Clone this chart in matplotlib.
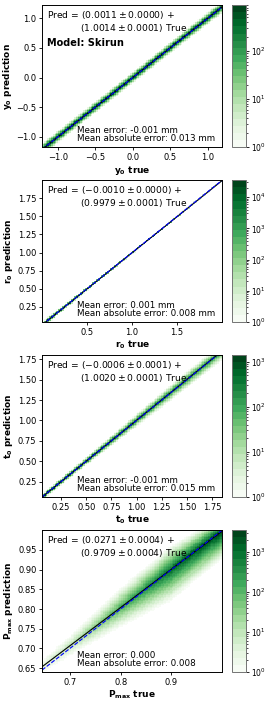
import numpy as np
import matplotlib
matplotlib.use("Agg")
import matplotlib.pyplot as plt
from matplotlib.colors import LogNorm

# one entry per panel: y0, r0, t0, Pmax
names = [r"\mathbf{y_0}", r"\mathbf{r_0}", r"\mathbf{t_0}", r"\mathbf{P_{max}}"]
x_range = [(-1.21, 1.19), (0.0, 2.0), (0.06, 1.85), (0.645, 1.0)]
y_range = [(-1.17, 1.22), (0.04, 2.0), (0.06, 1.80), (0.64, 1.0)]

# fit Pred = a + b*True, as printed on the panels
fit_a = [0.0011, -0.0010, -0.0006, 0.0271]
fit_a_err = [0.0000, 0.0000, 0.0001, 0.0004]
fit_b = [1.0014, 0.9979, 1.0020, 0.9709]
fit_b_err = [0.0001, 0.0001, 0.0001, 0.0004]
mean_err = ["-0.001 mm", "0.001 mm", "-0.001 mm", "0.000"]
mean_abs_err = ["0.013 mm", "0.008 mm", "0.015 mm", "0.008"]

# colorbar top (max bin count)
cmax = [900, 35000, 1400, 3500]

# band: along the true axis, peak count on the
# diagonal and half width of the green halo below / above the fit line
knots = [[-1.2, -0.6, 0.0, 0.6, 1.2],
         [0.0, 0.5, 1.0, 1.5, 2.0],
         [0.06, 0.5, 1.0, 1.5, 1.85],
         [0.645, 0.7, 0.8, 0.9, 1.0]]
peak = [[900, 800, 800, 800, 900],
        [35000, 9000, 4000, 2500, 1500],
        [1400, 600, 300, 200, 150],
        [4, 12, 150, 1200, 3500]]
halo_lo = [[0.11, 0.10, 0.10, 0.10, 0.11],
           [0.045, 0.03, 0.02, 0.015, 0.012],
           [0.04, 0.05, 0.08, 0.11, 0.12],
           [0.015, 0.025, 0.05, 0.08, 0.07]]
halo_hi = [[0.11, 0.10, 0.10, 0.10, 0.11],
           [0.045, 0.03, 0.02, 0.015, 0.012],
           [0.04, 0.05, 0.08, 0.10, 0.10],
           [0.015, 0.025, 0.05, 0.06, 0.04]]

xticks = [[-1.0, -0.5, 0.0, 0.5, 1.0], [0.5, 1.0, 1.5],
          [0.25, 0.5, 0.75, 1.0, 1.25, 1.5, 1.75], [0.7, 0.8, 0.9]]
yticks = [[-1.0, -0.5, 0.0, 0.5, 1.0],
          [0.25, 0.5, 0.75, 1.0, 1.25, 1.5, 1.75],
          [0.25, 0.5, 0.75, 1.0, 1.25, 1.5, 1.75],
          [0.65, 0.7, 0.75, 0.8, 0.85, 0.9, 0.95]]

nbins = 100
cmap = plt.get_cmap("Greens", 20)

fig = plt.figure(figsize=(2.66, 7.02), dpi=100)
bottoms = [0.7906, 0.5413, 0.292, 0.0427]

for i in range(4):
    ax = fig.add_axes([0.158, bottoms[i], 0.677, 0.202])
    cax = fig.add_axes([0.872, bottoms[i], 0.053, 0.202])

    xe = np.linspace(x_range[i][0], x_range[i][1], nbins + 1)
    ye = np.linspace(y_range[i][0], y_range[i][1], nbins + 1)
    xc = 0.5 * (xe[1:] + xe[:-1])
    yc = 0.5 * (ye[1:] + ye[:-1])
    X, Y = np.meshgrid(xc, yc)
    line = fit_a[i] + fit_b[i] * X
    r = Y - line
    lp = np.interp(X, knots[i], np.log10(peak[i]))
    hw = np.where(r < 0, np.interp(X, knots[i], halo_lo[i]),
                  np.interp(X, knots[i], halo_hi[i]))
    u = np.clip(1 - np.abs(r) / hw, 0, None)
    counts = 10 ** (lp * u)
    counts = np.ma.masked_where(u <= 0, counts)

    mesh = ax.pcolormesh(xe, ye, counts, cmap=cmap,
                         norm=LogNorm(vmin=1, vmax=cmax[i]), rasterized=True)
    xl = np.array(x_range[i])
    ax.plot(xl, fit_a[i] + fit_b[i] * xl, color="black", lw=0.8)
    ax.plot(xl, xl, color="blue", lw=0.8, ls="--")
    ax.set_xlim(x_range[i])
    ax.set_ylim(y_range[i])
    ax.set_xticks(xticks[i])
    ax.set_yticks(yticks[i])
    ax.tick_params(labelsize=6, length=2.5, width=0.6, pad=1.5)
    for s in ax.spines.values():
        s.set_linewidth(0.7)

    ax.set_xlabel("$%s$ true" % names[i], fontsize=6.5, fontweight="bold", labelpad=1.5)
    ax.set_ylabel("$%s$ prediction" % names[i], fontsize=6.5, fontweight="bold", labelpad=2)

    ax.text(0.026, 0.975, r"Pred = $(%.4f \pm %.4f)$ +" % (fit_a[i], fit_a_err[i]),
            transform=ax.transAxes, fontsize=6.6, va="top", ha="left")
    ax.text(0.21, 0.885, r"$(%.4f \pm %.4f)$ True" % (fit_b[i], fit_b_err[i]),
            transform=ax.transAxes, fontsize=6.6, va="top", ha="left")
    ax.text(0.196, 0.025, "Mean error: %s\nMean absolute error: %s" % (mean_err[i], mean_abs_err[i]),
            transform=ax.transAxes, fontsize=6.3, va="bottom", ha="left", linespacing=0.9)
    if i == 0:
        ax.text(0.03, 0.73, "Model: Skirun", transform=ax.transAxes,
                fontsize=7, fontweight="bold", va="center", ha="left")

    cb = fig.colorbar(mesh, cax=cax)
    cb.ax.tick_params(labelsize=5.5, length=2.5, width=0.6, pad=1)
    cb.ax.tick_params(which="minor", length=1.5, width=0.5)
    cb.outline.set_edgecolor("0.45")
    cb.outline.set_linewidth(0.7)

fig.savefig("out.png", dpi=100)
